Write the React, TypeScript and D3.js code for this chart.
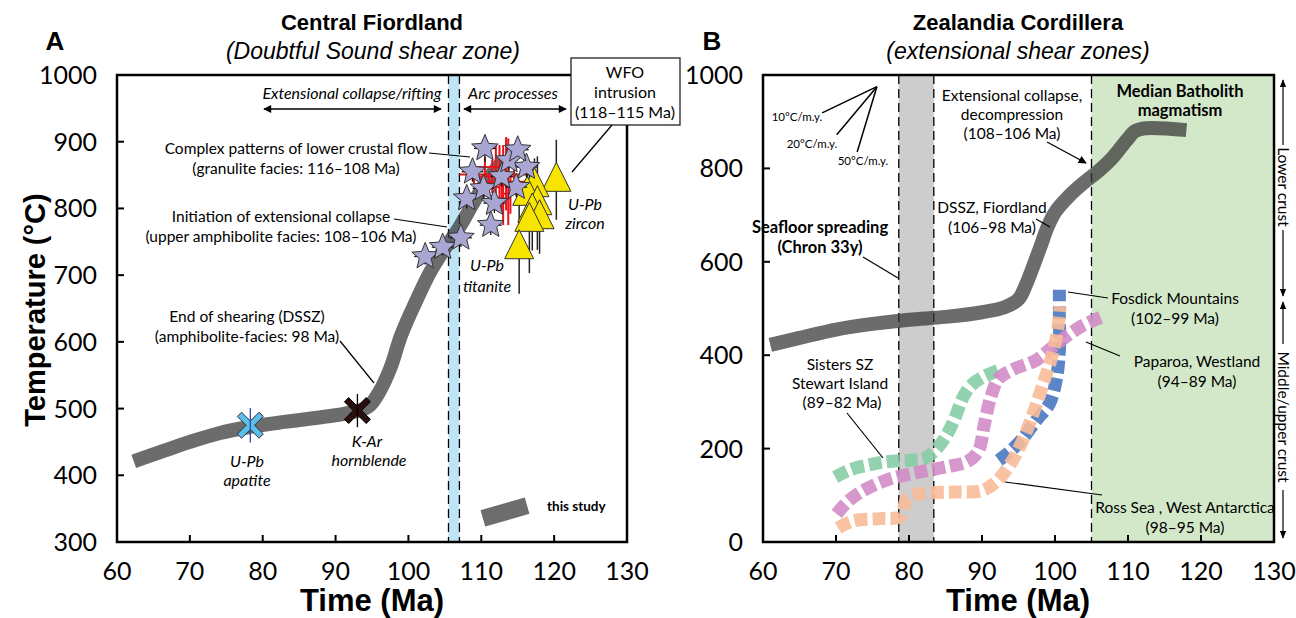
import React from 'react';
import * as d3 from 'd3';

// ---- data ----
const timeTicks = [60, 70, 80, 90, 100, 110, 120, 130];
const tempTicksA = [300, 400, 500, 600, 700, 800, 900, 1000];
const tempTicksB = [0, 200, 400, 600, 800, 1000];

// panel A: this study T-t path
const pathA: [number, number][] = [
  [62.3, 421], [66, 435], [70, 450], [74, 463], [78, 472], [83, 480], [88, 487],
  [92, 494], [94.5, 503], [96, 525], [97.5, 560], [99, 610], [101, 660],
  [103, 705], [105, 740], [107, 772], [109, 810], [111, 845], [113, 872],
];

// U-Pb titanite (Ma, T, +-Ma, +-T)
const titanite: [number, number, number, number][] = [
  [102.3, 728, 1.5, 12], [104.7, 742, 1.5, 12], [107.2, 756, 1.5, 14],
  [111.3, 775, 1.5, 15], [108.0, 815, 1.2, 15], [111.8, 808, 1.5, 15],
  [110.3, 830, 1.5, 14], [114.8, 832, 1.5, 15], [108.8, 855, 1.5, 15],
  [112.8, 848, 1.5, 15], [116.2, 862, 1.5, 15], [113.8, 872, 1.2, 15],
  [110.5, 890, 1.5, 20], [115.0, 888, 1.5, 15],
];

// red error bars (granulite)
const granulite: [number, number, number, number][] = [
  [111.5, 848, 3.5, 25], [112.5, 845, 0.8, 50], [113.0, 835, 0.5, 60],
  [113.4, 852, 0.5, 55], [110.5, 862, 2.0, 15], [114.0, 822, 1.0, 30],
  [111.0, 832, 1.5, 20], [112.0, 851, 5.0, 45], [113.7, 840, 4.0, 65],
  [109.0, 845, 1.0, 10], [112.8, 815, 1.2, 20], [114.5, 865, 1.5, 25],
];

// U-Pb zircon (Ma, T, +-T)
const zircon: [number, number, number][] = [
  [120.3, 843, 60], [117.3, 835, 40], [116.3, 822, 50], [117.7, 808, 70],
  [117.0, 797, 60], [118.0, 787, 55], [116.6, 783, 80], [115.2, 742, 70],
];

const apatite = { t: 78.3, temp: 475, err: 26 };
const hornblende = { t: 93.0, temp: 497, err: 25 };

// panel B paths
const pathB: [number, number][] = [
  [61, 422], [65, 437], [70, 455], [75, 467], [80, 476], [85, 482], [90, 492],
  [93, 502], [95, 520], [96, 550], [97, 590], [98, 632], [99, 675], [100, 706],
  [102, 742], [104, 770], [106, 795], [108, 825], [109.8, 860], [111, 880],
  [112.5, 886], [118, 882],
];
const sisters: [number, number][] = [
  [69.9, 139], [72, 155], [74.5, 165], [77, 172], [80, 175], [82, 178],
  [83.5, 195], [85, 225], [86.2, 262], [87.4, 310], [88.5, 335], [90, 352],
  [92.5, 369],
];
const paparoa: [number, number][] = [
  [70.1, 60], [71.5, 85], [73.5, 108], [77, 133], [81.5, 150], [85.5, 162],
  [88, 172], [89.5, 195], [90.3, 250], [91.2, 310], [92.3, 350], [94.2, 369],
  [97.5, 390], [99.7, 418], [103.4, 460], [106.5, 483],
];
const rossSea: [number, number][] = [
  [70.3, 30], [72.3, 45], [76, 50], [78.8, 55], [79.7, 92], [81.5, 103],
  [86, 107], [90, 110], [92, 130], [94, 170], [95.5, 215], [97, 275],
  [98.5, 345], [99.8, 410], [100.5, 470], [100.7, 505],
];
const fosdick: [number, number][] = [
  [92.3, 175], [93.7, 192], [95.5, 220], [97.5, 262], [99.2, 295],
  [100.2, 350], [100.6, 410], [100.6, 490], [100.6, 540],
];

const gradApex = { t: 75.6, temp: 975 };
const gradients = [
  { label: '10°C/m.y.', t: 68.1, temp: 919 },
  { label: '20°C/m.y.', t: 70.1, temp: 872 },
  { label: '50°C/m.y.', t: 72.9, temp: 835 },
];

const wfoBand = [105.5, 107.0];
const chronBand = [78.6, 83.4];
const batholithStart = 105;

// ---- scales ----
const xA = d3.scaleLinear().domain([60, 130]).range([117, 627]);
const yA = d3.scaleLinear().domain([300, 1000]).range([542, 75]);
const xB = d3.scaleLinear().domain([60, 130]).range([763, 1274]);
const yB = d3.scaleLinear().domain([0, 1000]).range([542, 75]);

const SANS = 'Lato, "Open Sans", sans-serif';
const ARIAL = '"Liberation Sans", Arial, sans-serif';

function starPath(cx: number, cy: number, R: number, r: number) {
  const pts: string[] = [];
  for (let i = 0; i < 10; i++) {
    const a = -Math.PI / 2 + (i * Math.PI) / 5;
    const rad = i % 2 === 0 ? R : r;
    pts.push(`${cx + rad * Math.cos(a)},${cy + rad * Math.sin(a)}`);
  }
  return 'M' + pts.join('L') + 'Z';
}

function xPath(cx: number, cy: number, s: number, w: number) {
  // thick X outline
  const d = w / Math.SQRT2;
  const p = [
    [-s, -s + d], [-s + d, -s], [0, -d], [s - d, -s], [s, -s + d], [d, 0],
    [s, s - d], [s - d, s], [0, d], [-s + d, s], [-s, s - d], [-d, 0],
  ];
  return 'M' + p.map(([a, b]) => `${cx + a},${cy + b}`).join('L') + 'Z';
}

const Axes: React.FC<{
  x: d3.ScaleLinear<number, number>;
  y: d3.ScaleLinear<number, number>;
  yTicks: number[];
}> = ({ x, y, yTicks }) => {
  const [x0, x1] = x.range();
  const [y0, y1] = y.range();
  return (
    <g>
      {timeTicks.map((t) => (
        <g key={'x' + t}>
          <line x1={x(t)} x2={x(t)} y1={y0} y2={y0 - 7} stroke="#000" strokeWidth={2} />
          <text x={x(t)} y={y0 + 38} textAnchor="middle" fontFamily={SANS} fontSize={25}>
            {t}
          </text>
        </g>
      ))}
      {yTicks.map((v) => (
        <g key={'y' + v}>
          <line x1={x0} x2={x0 + 7} y1={y(v)} y2={y(v)} stroke="#000" strokeWidth={2} />
          <text x={x0 - 20} y={y(v) + 9} textAnchor="end" fontFamily={SANS} fontSize={25}>
            {v}
          </text>
        </g>
      ))}
      <rect x={x0} y={y1} width={x1 - x0} height={y0 - y1} fill="none" stroke="#000" strokeWidth={2.5} />
    </g>
  );
};

export default function App() {
  const lineA = d3
    .line<[number, number]>()
    .x((d) => xA(d[0]))
    .y((d) => yA(d[1]))
    .curve(d3.curveCatmullRom.alpha(0.5));
  const lineB = d3
    .line<[number, number]>()
    .x((d) => xB(d[0]))
    .y((d) => yB(d[1]))
    .curve(d3.curveCatmullRom.alpha(0.5));

  const dashedSeries = [
    { data: fosdick, color: '#4a78c2' },
    { data: sisters, color: '#86cda6' },
    { data: paparoa, color: '#d08cc6' },
    { data: rossSea, color: '#f8bb98' },
  ];

  const tri = (cx: number, cy: number, s: number) =>
    `M${cx},${cy - s * 0.6}L${cx + s / 2},${cy + s * 0.4}L${cx - s / 2},${cy + s * 0.4}Z`;

  return (
    <svg
      width={1296}
      height={618}
      style={{ position: 'absolute', left: 0, top: 0, background: '#fff' }}
    >
      <defs>
        <marker id="ah" viewBox="0 0 10 10" refX="9" refY="5" markerWidth="11" markerHeight="8" orient="auto-start-reverse" markerUnits="userSpaceOnUse">
          <path d="M0,0L10,5L0,10Z" fill="#000" />
        </marker>
        <marker id="ahs" viewBox="0 0 10 10" refX="9" refY="5" markerWidth="8" markerHeight="10" orient="auto-start-reverse" markerUnits="userSpaceOnUse">
          <path d="M0,1L10,5L0,9Z" fill="#000" />
        </marker>
      </defs>

      {/* ================= PANEL A ================= */}
      <text x={55} y={50} textAnchor="middle" fontFamily={ARIAL} fontWeight="bold" fontSize={26}>A</text>
      <text x={372} y={30} textAnchor="middle" fontFamily={ARIAL} fontWeight="bold" fontSize={22}>Central Fiordland</text>
      <text x={373} y={59} textAnchor="middle" fontFamily={ARIAL} fontStyle="italic" fontSize={23}>(Doubtful Sound shear zone)</text>

      {/* WFO band */}
      <rect x={xA(wfoBand[0])} y={75} width={xA(wfoBand[1]) - xA(wfoBand[0])} height={467} fill="#bfe4f6" />
      {wfoBand.map((b) => (
        <line key={b} x1={xA(b)} x2={xA(b)} y1={75} y2={542} stroke="#000" strokeWidth={1.3} strokeDasharray="9,5" />
      ))}

      {/* this study path */}
      <path d={lineA(pathA) || ''} fill="none" stroke="#333" strokeOpacity={0.72} strokeWidth={14} />

      {/* granulite red bars */}
      {granulite.map(([t, v, et, ev], i) => (
        <g key={'g' + i} stroke="#e8141c" strokeWidth={2}>
          <line x1={xA(t - et)} x2={xA(t + et)} y1={yA(v)} y2={yA(v)} />
          <line x1={xA(t)} x2={xA(t)} y1={yA(v - ev)} y2={yA(v + ev)} />
        </g>
      ))}

      {/* zircon */}
      {zircon.map(([t, v, ev], i) => (
        <line key={'ze' + i} x1={xA(t)} x2={xA(t)} y1={yA(v - ev)} y2={yA(v + ev)} stroke="#222" strokeWidth={1.5} />
      ))}
      {zircon.map(([t, v], i) => (
        <path key={'z' + i} d={tri(xA(t), yA(v), 29)} fill="#f7e500" stroke="#333" strokeWidth={1} />
      ))}

      {/* titanite */}
      {titanite.map(([t, v, et, ev], i) => (
        <g key={'te' + i} stroke="#111" strokeWidth={1.3}>
          <line x1={xA(t - et)} x2={xA(t + et)} y1={yA(v)} y2={yA(v)} />
          <line x1={xA(t)} x2={xA(t)} y1={yA(v - ev)} y2={yA(v + ev)} />
        </g>
      ))}
      {titanite.map(([t, v], i) => (
        <path key={'t' + i} d={starPath(xA(t), yA(v), 14, 6.2)} fill="#a9a6d4" stroke="#333" strokeWidth={1} />
      ))}

      {/* apatite and hornblende */}
      <path d={xPath(xA(apatite.t), yA(apatite.temp), 13, 6)} fill="#5bbde9" stroke="#333" strokeWidth={1} />
      <line x1={xA(apatite.t)} x2={xA(apatite.t)} y1={yA(apatite.temp - apatite.err)} y2={yA(apatite.temp + apatite.err)} stroke="#2a4db5" strokeWidth={1.3} />
      <path d={xPath(xA(hornblende.t), yA(hornblende.temp), 13, 6)} fill="#2b0e0e" stroke="#000" strokeWidth={1} />
      <line x1={xA(hornblende.t)} x2={xA(hornblende.t)} y1={yA(hornblende.temp - hornblende.err)} y2={yA(hornblende.temp + hornblende.err)} stroke="#000" strokeWidth={1.3} />

      <Axes x={xA} y={yA} yTicks={tempTicksA} />

      {/* annotations A */}
      <g fontFamily={SANS} fontSize={15.5}>
        <text x={352} y={99} textAnchor="middle" fontStyle="italic" fontSize={16}>Extensional collapse/rifting</text>
        <line x1={264} x2={441} y1={109} y2={109} stroke="#000" strokeWidth={1.5} markerStart="url(#ah)" markerEnd="url(#ah)" />
        <text x={513} y={99} textAnchor="middle" fontStyle="italic" fontSize={16}>Arc processes</text>
        <line x1={464} x2={566} y1={109} y2={109} stroke="#000" strokeWidth={1.5} markerStart="url(#ah)" markerEnd="url(#ah)" />

        <rect x={571} y={58} width={109} height={67} fill="#fff" stroke="#222" strokeWidth={1.3} />
        <text x={625} y={78} textAnchor="middle" fontSize={16}>WFO</text>
        <text x={625} y={98} textAnchor="middle" fontSize={16}>intrusion</text>
        <text x={625} y={118} textAnchor="middle" fontSize={16}>(118–115 Ma)</text>
        <line x1={612} y1={125} x2={572} y2={172} stroke="#000" strokeWidth={1.3} />

        <text x={296} y={154} textAnchor="middle">Complex patterns of lower crustal flow</text>
        <text x={296} y={174} textAnchor="middle">(granulite facies: 116–108 Ma)</text>
        <line x1={429} y1={153} x2={470} y2={157} stroke="#000" strokeWidth={1.2} />

        <text x={281} y={222} textAnchor="middle">Initiation of extensional collapse</text>
        <text x={281} y={242} textAnchor="middle">(upper amphibolite facies: 108–106 Ma)</text>
        <line x1={394} y1={219} x2={447} y2={227} stroke="#000" strokeWidth={1.2} />

        <text x={247} y={322} textAnchor="middle">End of shearing (DSSZ)</text>
        <text x={247} y={342} textAnchor="middle">(amphibolite-facies: 98 Ma)</text>
        <line x1={340} y1={341} x2={374} y2={383} stroke="#000" strokeWidth={1.2} />

        <g fontStyle="italic" textAnchor="middle" fontSize={16}>
          <text x={247} y={467}>U-Pb</text>
          <text x={247} y={486}>apatite</text>
          <text x={367} y={447}>K-Ar</text>
          <text x={369} y={466}>hornblende</text>
          <text x={487} y={271}>U-Pb</text>
          <text x={487} y={292}>titanite</text>
          <text x={585} y={210}>U-Pb</text>
          <text x={585} y={229}>zircon</text>
        </g>

        {/* legend */}
        <rect x={-23} y={-8.5} width={46} height={17} fill="#6d6d6d" transform="translate(505,512) rotate(-16)" />
        <text x={547} y={511} fontWeight="bold" fontSize={13.5}>this study</text>
      </g>

      <text transform="translate(45,310) rotate(-90)" textAnchor="middle" fontFamily={ARIAL} fontWeight="bold" fontSize={29}>Temperature (°C)</text>
      <text x={372} y={611} textAnchor="middle" fontFamily={ARIAL} fontWeight="bold" fontSize={31}>Time (Ma)</text>

      {/* ================= PANEL B ================= */}
      <text x={712} y={50} textAnchor="middle" fontFamily={ARIAL} fontWeight="bold" fontSize={26}>B</text>
      <text x={1018} y={30} textAnchor="middle" fontFamily={ARIAL} fontWeight="bold" fontSize={22}>Zealandia Cordillera</text>
      <text x={1018} y={59} textAnchor="middle" fontFamily={ARIAL} fontStyle="italic" fontSize={23}>(extensional shear zones)</text>

      <rect x={xB(batholithStart)} y={75} width={xB(130) - xB(batholithStart)} height={467} fill="#d3e8c9" />
      <rect x={xB(chronBand[0])} y={75} width={xB(chronBand[1]) - xB(chronBand[0])} height={467} fill="#cdcdcd" />
      {[chronBand[0], chronBand[1], batholithStart].map((b) => (
        <line key={b} x1={xB(b)} x2={xB(b)} y1={75} y2={542} stroke="#000" strokeWidth={1.3} strokeDasharray="9,5" />
      ))}

      <path d={lineB(pathB) || ''} fill="none" stroke="#333" strokeOpacity={0.72} strokeWidth={14} />

      {dashedSeries.map((s, i) => (
        <path key={'ds' + i} d={lineB(s.data) || ''} fill="none" stroke={s.color} strokeOpacity={0.9} strokeWidth={13} strokeDasharray="13,5" />
      ))}

      {gradients.map((g) => (
        <line key={g.label} x1={xB(gradApex.t)} y1={yB(gradApex.temp)} x2={xB(g.t)} y2={yB(g.temp)} stroke="#000" strokeWidth={1.5} />
      ))}

      <Axes x={xB} y={yB} yTicks={tempTicksB} />

      <g fontFamily={SANS} fontSize={15.5}>
        <text x={797} y={121} textAnchor="middle" fontSize={11.5}>10°C/m.y.</text>
        <text x={812} y={148} textAnchor="middle" fontSize={11.5}>20°C/m.y.</text>
        <text x={863} y={165} textAnchor="middle" fontSize={11.5}>50°C/m.y.</text>

        <text x={1012} y={101} textAnchor="middle">Extensional collapse,</text>
        <text x={1012} y={120} textAnchor="middle">decompression</text>
        <text x={1012} y={139} textAnchor="middle">(108–106 Ma)</text>
        <line x1={1047} y1={142} x2={1086} y2={163} stroke="#000" strokeWidth={1.3} markerEnd="url(#ah)" />

        <text x={1180} y={97} textAnchor="middle" fontWeight="bold" fontSize={16.5}>Median Batholith</text>
        <text x={1180} y={116} textAnchor="middle" fontWeight="bold" fontSize={16.5}>magmatism</text>

        <text x={992} y={213} textAnchor="middle">DSSZ, Fiordland</text>
        <text x={992} y={233} textAnchor="middle">(106–98 Ma)</text>
        <line x1={1036} y1={219} x2={1050} y2={227} stroke="#000" strokeWidth={1.2} />

        <text x={820} y={233} textAnchor="middle" fontWeight="bold" fontSize={16.5}>Seafloor spreading</text>
        <text x={820} y={253} textAnchor="middle" fontWeight="bold" fontSize={16.5}>(Chron 33y)</text>
        <line x1={863} y1={257} x2={898} y2={278} stroke="#000" strokeWidth={1.2} />

        <text x={840} y={370} textAnchor="middle">Sisters SZ</text>
        <text x={840} y={389} textAnchor="middle">Stewart Island</text>
        <text x={842} y={408} textAnchor="middle">(89–82 Ma)</text>
        <line x1={847} y1={413} x2={883} y2={458} stroke="#000" strokeWidth={1.2} />

        <text x={1175} y={304} textAnchor="middle">Fosdick Mountains</text>
        <text x={1175} y={324} textAnchor="middle">(102–99 Ma)</text>
        <line x1={1068} y1={292} x2={1108} y2={298} stroke="#000" strokeWidth={1.2} />

        <text x={1197} y={367} textAnchor="middle">Paparoa, Westland</text>
        <text x={1197} y={387} textAnchor="middle">(94–89 Ma)</text>
        <line x1={1086} y1={342} x2={1120} y2={356} stroke="#000" strokeWidth={1.2} />

        <text x={1185} y={513} textAnchor="middle">Ross Sea , West Antarctica</text>
        <text x={1185} y={533} textAnchor="middle">(98–95 Ma)</text>
        <line x1={1005} y1={482} x2={1102} y2={495} stroke="#000" strokeWidth={1.2} />

        {/* crust depth arrows */}
        <line x1={1283} x2={1283} y1={80} y2={145} stroke="#000" strokeWidth={1.2} markerStart="url(#ahs)" />
        <line x1={1283} x2={1283} y1={230} y2={296} stroke="#000" strokeWidth={1.2} markerEnd="url(#ahs)" />
        <text transform="translate(1278,187) rotate(90)" textAnchor="middle">Lower crust</text>
        <line x1={1283} x2={1283} y1={302} y2={344} stroke="#000" strokeWidth={1.2} markerStart="url(#ahs)" />
        <line x1={1283} x2={1283} y1={490} y2={538} stroke="#000" strokeWidth={1.2} markerEnd="url(#ahs)" />
        <text transform="translate(1278,417) rotate(90)" textAnchor="middle">Middle/upper crust</text>
      </g>

      <text x={1018} y={611} textAnchor="middle" fontFamily={ARIAL} fontWeight="bold" fontSize={31}>Time (Ma)</text>
    </svg>
  );
}
